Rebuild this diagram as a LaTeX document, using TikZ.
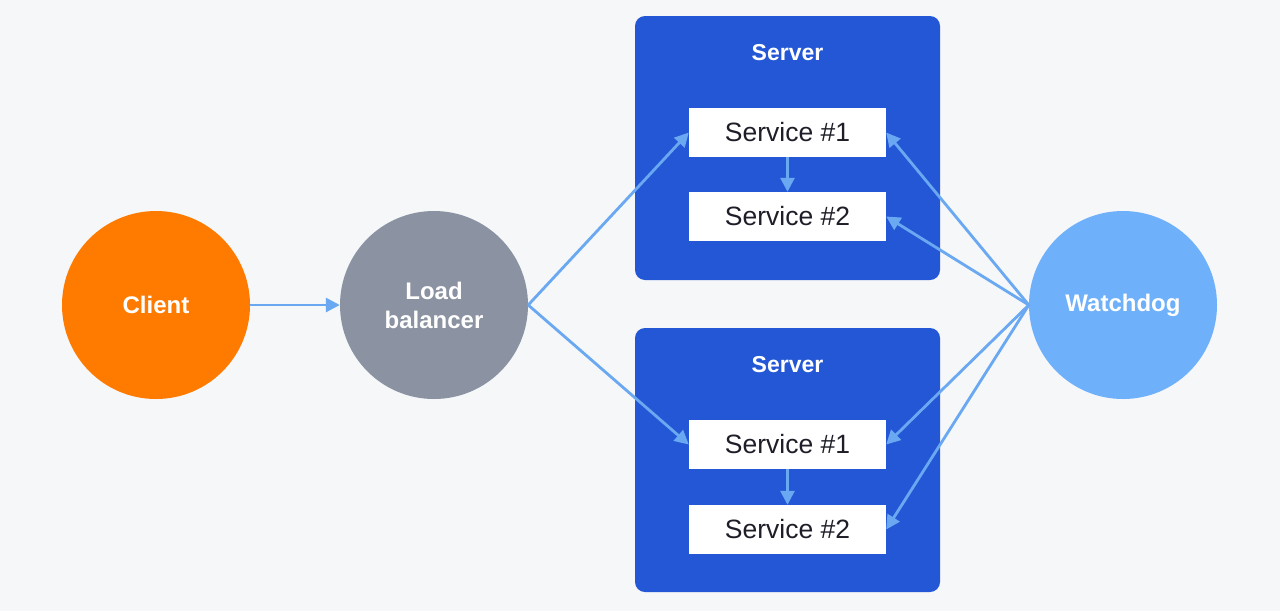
\documentclass[tikz,border=0pt]{standalone}
\usepackage{fontspec}
\setmainfont{Liberation Sans}
\usetikzlibrary{arrows.meta}
\definecolor{bgc}{HTML}{F5F7F9}
\definecolor{clientc}{HTML}{FF7B00}
\definecolor{lbc}{HTML}{8B93A3}
\definecolor{serverc}{HTML}{2357D6}
\definecolor{wdc}{HTML}{6FB0FB}
\definecolor{arrc}{HTML}{6AA9F2}
\definecolor{txtc}{HTML}{1E1E28}
\tikzset{
  circ/.style={circle, minimum size=188pt, inner sep=0pt, text=white, font=\fontsize{24}{29}\selectfont\bfseries, align=center},
  serverbox/.style={rounded corners=10pt, fill=serverc, draw=none},
  svc/.style={fill=white, draw=none, minimum width=197pt, minimum height=49pt, inner sep=0pt, text=txtc, font=\fontsize{26.5}{30}\selectfont},
  srvlabel/.style={text=white, font=\fontsize{23}{26}\selectfont\bfseries},
  conn/.style={draw=arrc, line width=2.8pt, -{Triangle[length=14pt,width=14pt]}},
}
\begin{document}
\begin{tikzpicture}[x=1pt,y=-1pt]
\useasboundingbox (0,0) rectangle (1280,611);
\fill[bgc] (0,0) rectangle (1280,611);
% servers
\filldraw[serverbox] (635,16) rectangle (940,280);
\filldraw[serverbox] (635,328) rectangle (940,592);
\node[srvlabel] (lab1) at (787.5,53) {Server};
\node[srvlabel] (lab2) at (787.5,365) {Server};
\node[svc] (s11) at (787.5,132.5) {Service \#1};
\node[svc] (s12) at (787.5,216.5) {Service \#2};
\node[svc] (s21) at (787.5,444.5) {Service \#1};
\node[svc] (s22) at (787.5,529.5) {Service \#2};
% circles
\node[circ, fill=clientc] (client) at (156,305) {Client};
\node[circ, fill=lbc] (lb) at (434,305) {Load\\balancer};
\node[circ, fill=wdc] (wd) at (1123,305) {Watchdog};
% connectors
\draw[conn] (client.east) -- (lb.west);
\draw[conn] (lb.east) -- (s11.west);
\draw[conn] (lb.east) -- (s21.west);
\draw[conn] (s11.south) -- (s12.north);
\draw[conn] (s21.south) -- (s22.north);
\draw[conn] (wd.west) -- (s11.east);
\draw[conn] (wd.west) -- (s12.east);
\draw[conn] (wd.west) -- (s21.east);
\draw[conn] (wd.west) -- (s22.east);
\end{tikzpicture}
\end{document}
